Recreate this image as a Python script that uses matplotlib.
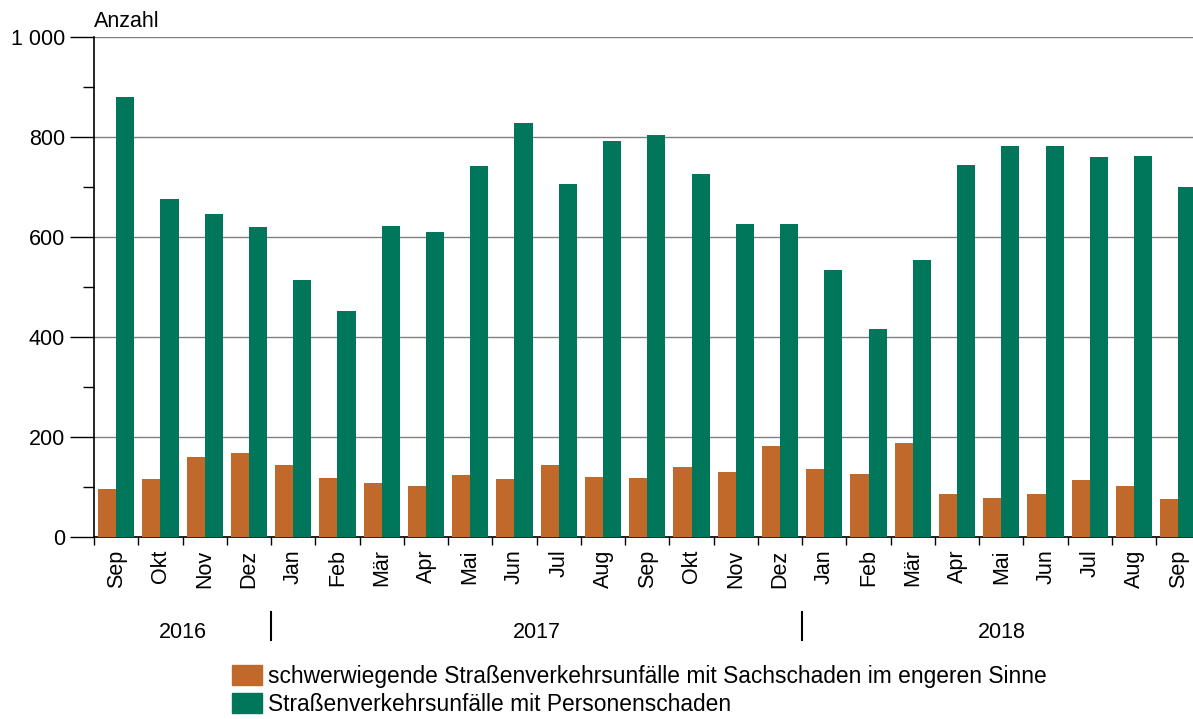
import numpy as np
import matplotlib.pyplot as plt
from matplotlib.patches import Patch
from matplotlib.ticker import FuncFormatter, MultipleLocator

plt.rcParams['font.family'] = ['Liberation Sans', 'DejaVu Sans']

months = ['Sep', 'Okt', 'Nov', 'Dez',
          'Jan', 'Feb', 'Mär', 'Apr', 'Mai', 'Jun', 'Jul', 'Aug', 'Sep', 'Okt', 'Nov', 'Dez',
          'Jan', 'Feb', 'Mär', 'Apr', 'Mai', 'Jun', 'Jul', 'Aug', 'Sep']
years = ['2016', '2017', '2018']
year_span = [(0, 3), (4, 15), (16, 24)]

sach = [96, 116, 160, 168,
        144, 118, 108, 102, 124, 116, 144, 120, 118, 140, 130, 182,
        136, 126, 188, 86, 78, 86, 114, 102, 76]
person = [880, 676, 646, 620,
          514, 452, 622, 610, 742, 828, 706, 792, 804, 726, 626, 626,
          534, 416, 554, 744, 782, 782, 760, 762, 700]

lab_sach = 'schwerwiegende Straßenverkehrsunfälle mit Sachschaden im engeren Sinne'
lab_person = 'Straßenverkehrsunfälle mit Personenschaden'

c_orange = '#c1692b'
c_green = '#00765a'

fig = plt.figure(figsize=(11.93, 7.19), dpi=100)
ax = fig.add_axes([94/1193, 1 - 537/719, 1 - 94/1193, 500/719])

x = np.arange(len(months))
w = 0.41
ax.bar(x - 0.205, sach, w, color=c_orange, zorder=3)
ax.bar(x + 0.205, person, w, color=c_green, zorder=3)

ax.set_xlim(-0.5, len(months) - 0.67)
ax.set_ylim(0, 1000)
ax.yaxis.set_major_locator(MultipleLocator(200))
ax.yaxis.set_minor_locator(MultipleLocator(100))
ax.yaxis.set_major_formatter(FuncFormatter(lambda v, p: f'{int(v):,}'.replace(',', ' ')))
ax.grid(axis='y', which='major', color='#808080', lw=1, zorder=0)

ax.set_xticks(x)
ax.set_xticklabels(months, rotation=90)
ax.set_xticks(np.arange(-0.5, len(months) - 0.5), minor=True)
ax.tick_params(axis='x', which='major', length=0, pad=9, labelsize=15.5)
ax.tick_params(axis='x', which='minor', length=6, width=1, color='black')
ax.tick_params(axis='y', which='major', length=17, width=1, labelsize=15.5, pad=4)
ax.tick_params(axis='y', which='minor', length=8, width=1)

for s in ['top', 'right']:
    ax.spines[s].set_visible(False)
for s in ['left', 'bottom']:
    ax.spines[s].set_linewidth(1.2)

ax.text(0, 1.01, 'Anzahl', transform=ax.transAxes, fontsize=15.5, va='bottom', ha='left')

trans = ax.get_xaxis_transform()
for yr, (a, b) in zip(years, year_span):
    ax.text((a + b) / 2, -0.19, yr, transform=trans, ha='center', va='center', fontsize=15.5)
for (a, b) in year_span[1:]:
    ax.plot([a - 0.5, a - 0.5], [-0.15, -0.205], transform=trans, color='black',
            lw=1.5, clip_on=False)

handles = [Patch(color=c_orange), Patch(color=c_green)]
fig.legend(handles, [lab_sach, lab_person], loc='upper left',
           bbox_to_anchor=(232/1193, 1 - 665/719), frameon=False, fontsize=16.4,
           handlelength=1.33, handleheight=1.0, handletextpad=0.25,
           labelspacing=0.2, borderpad=0, borderaxespad=0)

fig.savefig('out.png', dpi=100)
